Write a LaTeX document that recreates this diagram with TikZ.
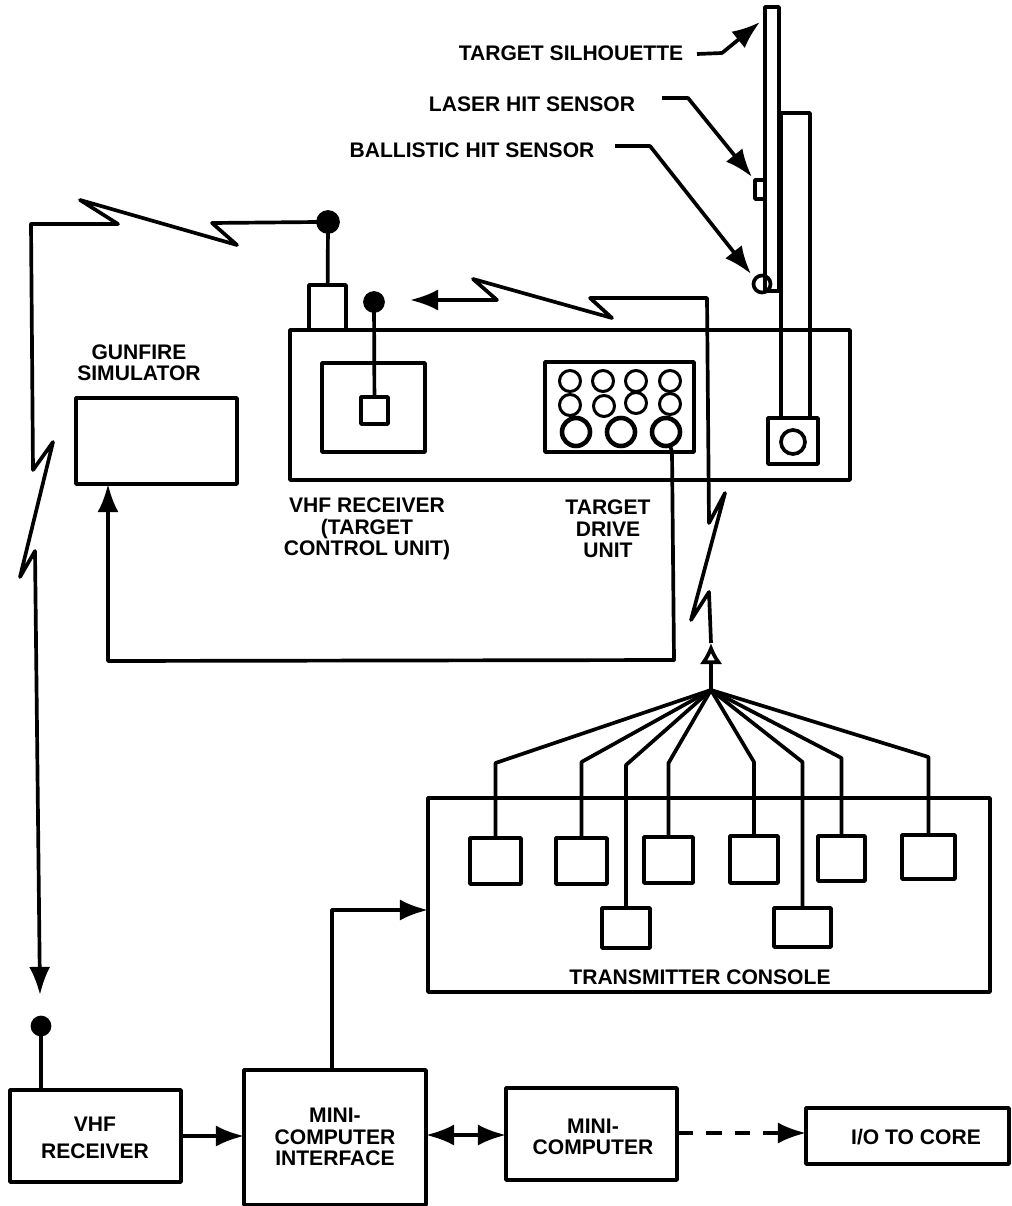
\documentclass[tikz,border=0pt]{standalone}
\usepackage{fontspec}
\setmainfont{Liberation Sans}
\usetikzlibrary{arrows.meta}
\begin{document}
\begin{tikzpicture}[x=0.02cm, y=-0.02cm, line width=2.1pt, line join=round,
    >={Latex[length=16pt, width=12pt]},
    box/.style 2 args={draw, inner sep=0pt, outer sep=0pt, minimum width=#1*0.02cm, minimum height=#2*0.02cm},
    dot/.style={draw, circle, inner sep=0pt, outer sep=0pt, minimum size=#1*0.02cm},
    ant/.style={dot=#1, fill=black},
    lbl/.style={font=\bfseries\fontsize{12}{12.2}\selectfont, align=center, inner sep=0pt}]
  \useasboundingbox (0,0) rectangle (1011,1206);

  % --- Target unit ---
  \node[box={560}{150}] (base) at (570,405) {};
  \node[box={37}{45}] (whip) at (327.5,307.5) {};
  \node[ant=20] (whipdot) at (328,222) {};
  \draw (whipdot) -- (whip);
  \node[box={103}{89}] (rcvbox) at (373.5,407.5) {};
  \node[box={27}{27}] (rcvsq) at (374.5,410.5) {};
  \node[ant=18] (rcvdot) at (374,302) {};
  \draw (rcvdot) -- (rcvsq);

  % --- Target drive unit ---
  \node[box={149}{90}] (drive) at (619.5,407) {};
  \foreach \i/\x/\y in {1/570/381,2/603/381,3/636/381,4/670/381,5/570/405,6/604/406,7/636/403,8/670/404} {
    \node[dot=21, line width=1.7pt] (jack\i) at (\x,\y) {};
  }
  \foreach \i/\x in {1/576,2/621,3/666} {
    \node[dot=28, line width=2.6pt] (big\i) at (\x,432) {};
  }

  % --- Target and sensors ---
  \node[box={14}{284}] (sil) at (772,149) {};
  \node[box={29}{305}] (pole) at (795.5,265.5) {};
  \node[box={50}{46}] (mount) at (793,441) {};
  \node[dot=24] (pivot) at (793,442) {};
  \node[box={10}{19}] (laser) at (760,189.5) {};
  \node[dot=17] (ball) at (762,284) {};

  % --- Labels ---
  \node[lbl] (lblsil) at (571,53) {TARGET SILHOUETTE};
  \node[lbl] (lbllaser) at (532,104) {LASER HIT SENSOR};
  \node[lbl] (lblball) at (472,150) {BALLISTIC HIT SENSOR};
  \node[lbl] (lblgun) at (139,363) {GUNFIRE\\SIMULATOR};
  \node[lbl] (lblrcv) at (367,529) {VHF RECEIVER\\(TARGET\\CONTROL UNIT)};
  \node[lbl] (lbldrive) at (608,529) {TARGET\\DRIVE\\UNIT};

  % Pointers to the target
  \coordinate (silend) at (697,54);
  \coordinate (laserend) at (662,98);
  \coordinate (ballend) at (615,146);
  \draw[->] (silend) -- (722,53) -- (760,22);
  \draw[->] (laserend) -- (688,98) -- (752,177);
  \draw[->] (ballend) -- (650,146) -- (751,274);

  % --- Gunfire simulator ---
  \node[box={161}{86}] (gun) at (156.5,441) {};
  \draw[->] (big3) -- (672,452) -- (674,660) -- (108,661) -- (gun.south -| 108,0);

  % --- Lower blocks ---
  \node[box={171}{92}] (vhf) at (95.5,1136) {};
  \node[box={182}{135}] (iface) at (335,1137.5) {};
  \node[box={171}{92}] (mini) at (591.5,1134) {};
  \node[box={203}{56}] (core) at (907.5,1136) {};
  \node[lbl, font=\bfseries\fontsize{12}{15.5}\selectfont] (lblvhf) at (95,1138) {VHF\\RECEIVER};
  \node[lbl] (lbliface) at (335,1137) {MINI-\\COMPUTER\\INTERFACE};
  \node[lbl] (lblmini) at (593,1137) {MINI-\\COMPUTER};
  \node[lbl] (lblcore) at (916,1137) {I/O TO CORE};
  \node[ant=17] (vhfdot) at (41,1026) {};
  \draw (vhfdot) -- (vhfdot |- vhf.north);
  \draw[->] (vhf.east |- 0,1136) -- (iface.west |- 0,1136);
  \draw[<->] (iface.east |- 0,1135) -- (mini.west |- 0,1135);
  \draw[->, dash pattern=on 9pt off 7.4pt] (mini.east |- 0,1133) -- (core.west |- 0,1133);

  % --- Transmitter console ---
  \node[box={562}{194}] (console) at (709,895) {};
  \node[lbl] (lblconsole) at (700,977) {TRANSMITTER CONSOLE};
  \coordinate (hub) at (711,690);
  \foreach \i/\x/\y/\w/\h/\s in {1/495.5/861/51/46/763,2/581.5/861/51/46/762,3/668.5/860/49/46/763,
      4/754/859.5/48/47/762,5/841.5/858.5/47/45/758,6/928.5/857/53/44/757,
      7/626/928/48/40/765,8/802.5/927.5/57/39/762} {
    \node[box={\w}{\h}] (sq\i) at (\x,\y) {};
    \draw (hub) -- (\x,\s) -- (sq\i.north);
  }
  \draw[-{Latex[open, length=12pt, width=13pt]}] (hub) -- (711,643);

  \draw[->] (iface.north -| 332,0) -- (332,910) -- (console.west |- 0,910);

  % --- Radio links ---
  \draw[->] (whipdot.west) -- (212,223) -- (237,245) -- (80,200) -- (118,224) -- (31,224)
    -- (33,470) -- (53,442) -- (20,577) -- (35,551) -- (40,995);
  \draw[->] (711,643) -- (709,592) -- (691,620) -- (725,493) -- (709,523) -- (707,298)
    -- (590,298) -- (612,318) -- (473,279) -- (497,300) -- (410,300);
\end{tikzpicture}
\end{document}
